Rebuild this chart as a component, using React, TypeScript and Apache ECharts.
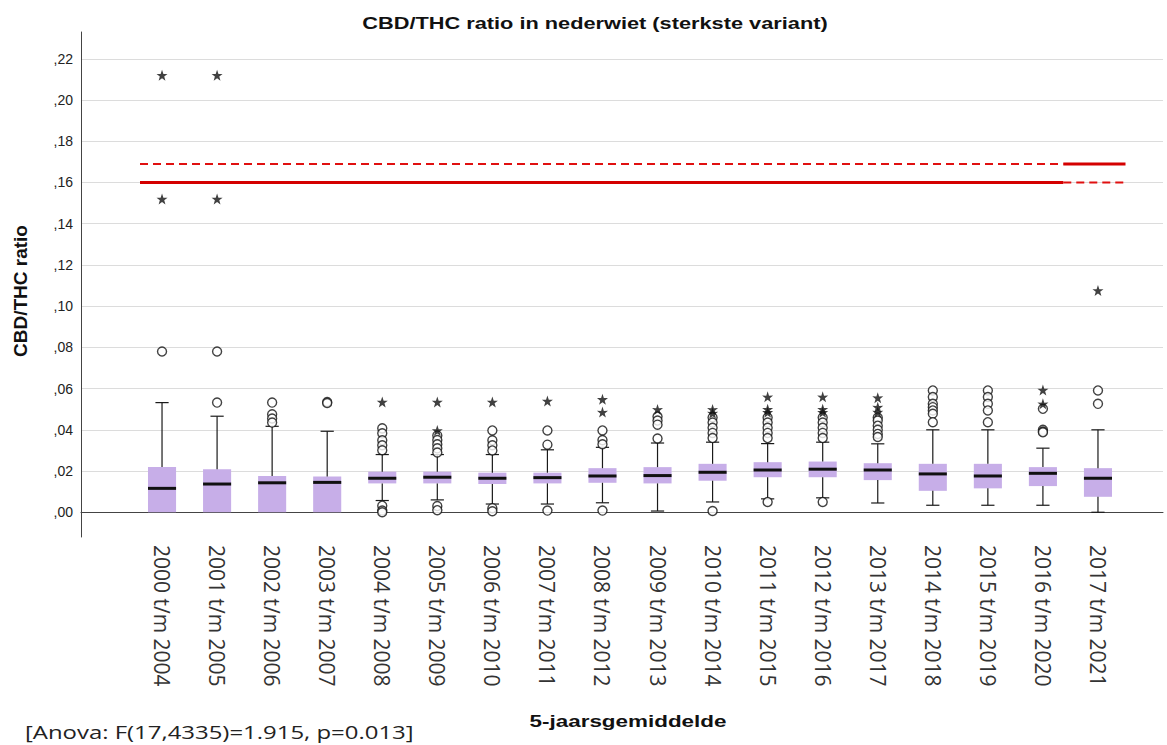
import React, { useEffect, useRef } from "react";
import * as echarts from "echarts";

const categories = [
  "2000 t/m 2004", "2001 t/m 2005", "2002 t/m 2006", "2003 t/m 2007",
  "2004 t/m 2008", "2005 t/m 2009", "2006 t/m 2010", "2007 t/m 2011",
  "2008 t/m 2012", "2009 t/m 2013", "2010 t/m 2014", "2011 t/m 2015",
  "2012 t/m 2016", "2013 t/m 2017", "2014 t/m 2018", "2015 t/m 2019",
  "2016 t/m 2020", "2017 t/m 2021",
];

const whiskerLow = [0, 0, 0, 0, 0.0057, 0.006, 0.004, 0.004, 0.0046, 0.0006, 0.005, 0.0065, 0.007, 0.0045, 0.0034, 0.0034, 0.0034, 0.0];
const q1 = [0, 0, 0, 0, 0.014, 0.014, 0.0137, 0.014, 0.0143, 0.014, 0.0153, 0.017, 0.017, 0.0156, 0.0104, 0.0116, 0.0127, 0.0075];
const median = [0.0116, 0.0137, 0.0143, 0.0145, 0.0165, 0.017, 0.0165, 0.0168, 0.0176, 0.0178, 0.0194, 0.0205, 0.0209, 0.0205, 0.0186, 0.0176, 0.0189, 0.0165];
const q3 = [0.0219, 0.0209, 0.0176, 0.0173, 0.0197, 0.0197, 0.0192, 0.0192, 0.0214, 0.0219, 0.0235, 0.0243, 0.0246, 0.0238, 0.0235, 0.0235, 0.0219, 0.0214];
const whiskerHigh = [0.0532, 0.0466, 0.0417, 0.0393, 0.028, 0.028, 0.028, 0.0303, 0.0315, 0.0336, 0.034, 0.0333, 0.034, 0.0332, 0.040, 0.040, 0.0311, 0.040];

// outliers (circles) per category
const circleOutliers: number[][] = [
  [0.078],
  [0.0532, 0.078],
  [0.0532, 0.0475, 0.0455, 0.0435],
  [0.0535, 0.053],
  [0.0407, 0.0383, 0.0349, 0.0325, 0.0301, 0.0032, 0.0008, 0.0],
  [0.0373, 0.035, 0.033, 0.031, 0.029, 0.003, 0.001],
  [0.0397, 0.0349, 0.0325, 0.030, 0.002, 0.0005],
  [0.0397, 0.0328, 0.0008],
  [0.0397, 0.035, 0.033, 0.0008],
  [0.0465, 0.0445, 0.0425, 0.0358],
  [0.046, 0.0435, 0.041, 0.0385, 0.036, 0.0006],
  [0.046, 0.0435, 0.041, 0.0385, 0.036, 0.005],
  [0.046, 0.0435, 0.041, 0.0385, 0.036, 0.005],
  [0.046, 0.0445, 0.042, 0.040, 0.038, 0.0365],
  [0.0591, 0.0559, 0.0526, 0.051, 0.0494, 0.0478, 0.0437],
  [0.0591, 0.0559, 0.0526, 0.0494, 0.0437],
  [0.0502, 0.040, 0.0392, 0.0388],
  [0.0591, 0.0526],
];

// extreme values (stars) per category
const starOutliers: number[][] = [
  [0.152, 0.212],
  [0.152, 0.212],
  [],
  [],
  [0.0535],
  [0.0535, 0.0397],
  [0.0535],
  [0.054],
  [0.0548, 0.0486],
  [0.0499],
  [0.0499, 0.0481],
  [0.056, 0.050, 0.0485],
  [0.056, 0.050, 0.0485],
  [0.0556, 0.051, 0.0486],
  [],
  [],
  [0.0593, 0.0526],
  [0.1076],
];

// red reference lines: [xStart, xEnd, value] in category units
const redSolidSegments = [
  [-0.4, 16.37, 0.16],
  [16.37, 17.5, 0.169],
];
const redDashedSegments = [
  [-0.4, 16.37, 0.169],
  [16.37, 17.5, 0.16],
];

const yTickValues = [0, 0.02, 0.04, 0.06, 0.08, 0.1, 0.12, 0.14, 0.16, 0.18, 0.2, 0.22];

const STAR =
  "path://M50,0 L61.8,35.4 L97.6,34.5 L69.1,56.2 L79.4,90.5 L50,70 L20.6,90.5 L30.9,56.2 L2.4,34.5 L38.2,35.4 Z";

const Y_MIN = -0.012;
const Y_MAX = 0.233;

export default function App() {
  const ref = useRef<HTMLDivElement>(null);

  useEffect(() => {
    if (!ref.current) return;
    const chart = echarts.init(ref.current, null, { renderer: "svg" });

    const boxData = categories.map((_, i) => [i, whiskerLow[i], q1[i], median[i], q3[i], whiskerHigh[i]]);
    const circleData: number[][] = [];
    circleOutliers.forEach((arr, i) => arr.forEach((v) => circleData.push([i, v])));
    const starData: number[][] = [];
    starOutliers.forEach((arr, i) => arr.forEach((v) => starData.push([i, v])));

    const redSeries: any[] = [];
    redSolidSegments.forEach((s) =>
      redSeries.push({
        type: "line",
        xAxisIndex: 2,
        yAxisIndex: 1,
        data: [[s[0], s[2]], [s[1], s[2]]],
        symbol: "none",
        silent: true,
        lineStyle: { color: "#d40000", width: 3 },
        z: 3,
      })
    );
    redDashedSegments.forEach((s) =>
      redSeries.push({
        type: "line",
        xAxisIndex: 2,
        yAxisIndex: 1,
        data: [[s[0], s[2]], [s[1], s[2]]],
        symbol: "none",
        silent: true,
        lineStyle: { color: "#e01010", width: 2, type: [8, 5] },
        z: 3,
      })
    );

    const option: any = {
      animation: false,
      backgroundColor: "#ffffff",
      grid: [
        { left: 81, right: 4, top: 32, bottom: 208 },
        { left: 134.5, width: 991, top: 32, bottom: 208 },
      ],
      xAxis: [
        {
          gridIndex: 0,
          type: "value",
          min: 0,
          max: 1,
          axisLine: { show: true, lineStyle: { color: "#444", width: 1 } },
          axisTick: { show: false },
          axisLabel: { show: false },
          splitLine: { show: false },
        },
        {
          gridIndex: 1,
          type: "category",
          data: categories,
          axisLine: { show: false },
          axisTick: { show: false },
          splitLine: { show: false },
          axisLabel: {
            interval: 0,
            rotate: -90,
            margin: 8,
            fontFamily: "Open Sans",
            fontSize: 21,
            color: "#333",
          },
        },
        {
          gridIndex: 1,
          type: "value",
          min: -0.5,
          max: 17.5,
          show: false,
        },
      ],
      yAxis: [
        {
          gridIndex: 0,
          type: "value",
          min: Y_MIN,
          max: Y_MAX,
          axisLine: { show: true, lineStyle: { color: "#444", width: 1 } },
          axisTick: { show: false, customValues: yTickValues },
          axisLabel: {
            customValues: yTickValues,
            margin: 8,
            fontFamily: "Liberation Sans",
            fontSize: 14,
            color: "#222",
            formatter: (v: number) => "," + String(Math.round(v * 100)).padStart(2, "0"),
          },
          splitLine: { show: true, lineStyle: { color: "#dcdcdc", width: 1 } },
        },
        {
          gridIndex: 1,
          type: "value",
          min: Y_MIN,
          max: Y_MAX,
          show: false,
          splitLine: { show: false },
        },
      ],
      graphic: [
        {
          type: "text",
          x: 595,
          y: 23,
          scaleX: 1.28,
          style: {
            text: "CBD/THC ratio in nederwiet (sterkste variant)",
            font: "bold 17px 'Liberation Sans', Arial, sans-serif",
            fill: "#111",
            align: "center",
            verticalAlign: "middle",
          },
        },
        {
          type: "text",
          x: 20,
          y: 291,
          rotation: Math.PI / 2,
          style: {
            text: "CBD/THC ratio",
            font: "bold 19px 'Liberation Sans', Arial, sans-serif",
            fill: "#111",
            align: "center",
            verticalAlign: "middle",
          },
        },
        {
          type: "text",
          x: 628,
          y: 721,
          scaleX: 1.32,
          style: {
            text: "5-jaarsgemiddelde",
            font: "bold 17px 'Liberation Sans', Arial, sans-serif",
            fill: "#111",
            align: "center",
            verticalAlign: "middle",
          },
        },
        {
          type: "text",
          x: 25,
          y: 732,
          scaleX: 1.33,
          style: {
            text: "[Anova: F(17,4335)=1.915, p=0.013]",
            font: "18px 'Open Sans', sans-serif",
            fill: "#222",
            align: "left",
            verticalAlign: "middle",
          },
        },
      ],
      series: [
        {
          type: "custom",
          xAxisIndex: 1,
          yAxisIndex: 1,
          data: boxData,
          encode: { x: 0, y: [1, 2, 3, 4, 5] },
          clip: false,
          z: 2,
          renderItem: (params: any, api: any) => {
            const x = api.value(0);
            const pLow = api.coord([x, api.value(1)]);
            const pQ1 = api.coord([x, api.value(2)]);
            const pMed = api.coord([x, api.value(3)]);
            const pQ3 = api.coord([x, api.value(4)]);
            const pHigh = api.coord([x, api.value(5)]);
            const band = api.size([1, 0])[0];
            const bw = band * 0.51;
            const cw = band * 0.24;
            const cx = pMed[0];
            const stroke = { stroke: "#1a1a1a", lineWidth: 1.2 };
            const children: any[] = [
              {
                type: "rect",
                shape: { x: cx - bw / 2, y: pQ3[1], width: bw, height: Math.max(pQ1[1] - pQ3[1], 1) },
                style: { fill: "#c7aee8" },
              },
            ];
            if (api.value(5) > api.value(4)) {
              children.push({ type: "line", shape: { x1: cx, y1: pQ3[1], x2: cx, y2: pHigh[1] }, style: stroke });
              children.push({ type: "line", shape: { x1: cx - cw / 2, y1: pHigh[1], x2: cx + cw / 2, y2: pHigh[1] }, style: stroke });
            }
            if (api.value(1) < api.value(2)) {
              children.push({ type: "line", shape: { x1: cx, y1: pQ1[1], x2: cx, y2: pLow[1] }, style: stroke });
              children.push({ type: "line", shape: { x1: cx - cw / 2, y1: pLow[1], x2: cx + cw / 2, y2: pLow[1] }, style: stroke });
            }
            children.push({
              type: "line",
              shape: { x1: cx - bw / 2, y1: pMed[1], x2: cx + bw / 2, y2: pMed[1] },
              style: { stroke: "#111", lineWidth: 3 },
            });
            return { type: "group", children };
          },
        },
        {
          type: "scatter",
          xAxisIndex: 1,
          yAxisIndex: 1,
          data: circleData,
          symbol: "circle",
          symbolSize: 9,
          itemStyle: { color: "#ffffff", borderColor: "#111", borderWidth: 1.4 },
          z: 4,
        },
        {
          type: "scatter",
          xAxisIndex: 1,
          yAxisIndex: 1,
          data: starData,
          symbol: STAR,
          symbolSize: 11,
          itemStyle: { color: "#111" },
          z: 5,
        },
        ...redSeries,
      ],
    };

    chart.setOption(option);
    return () => chart.dispose();
  }, []);

  return (
    <div
      ref={ref}
      style={{ position: "fixed", left: 0, top: 0, width: 1167, height: 745, background: "#fff" }}
    />
  );
}
